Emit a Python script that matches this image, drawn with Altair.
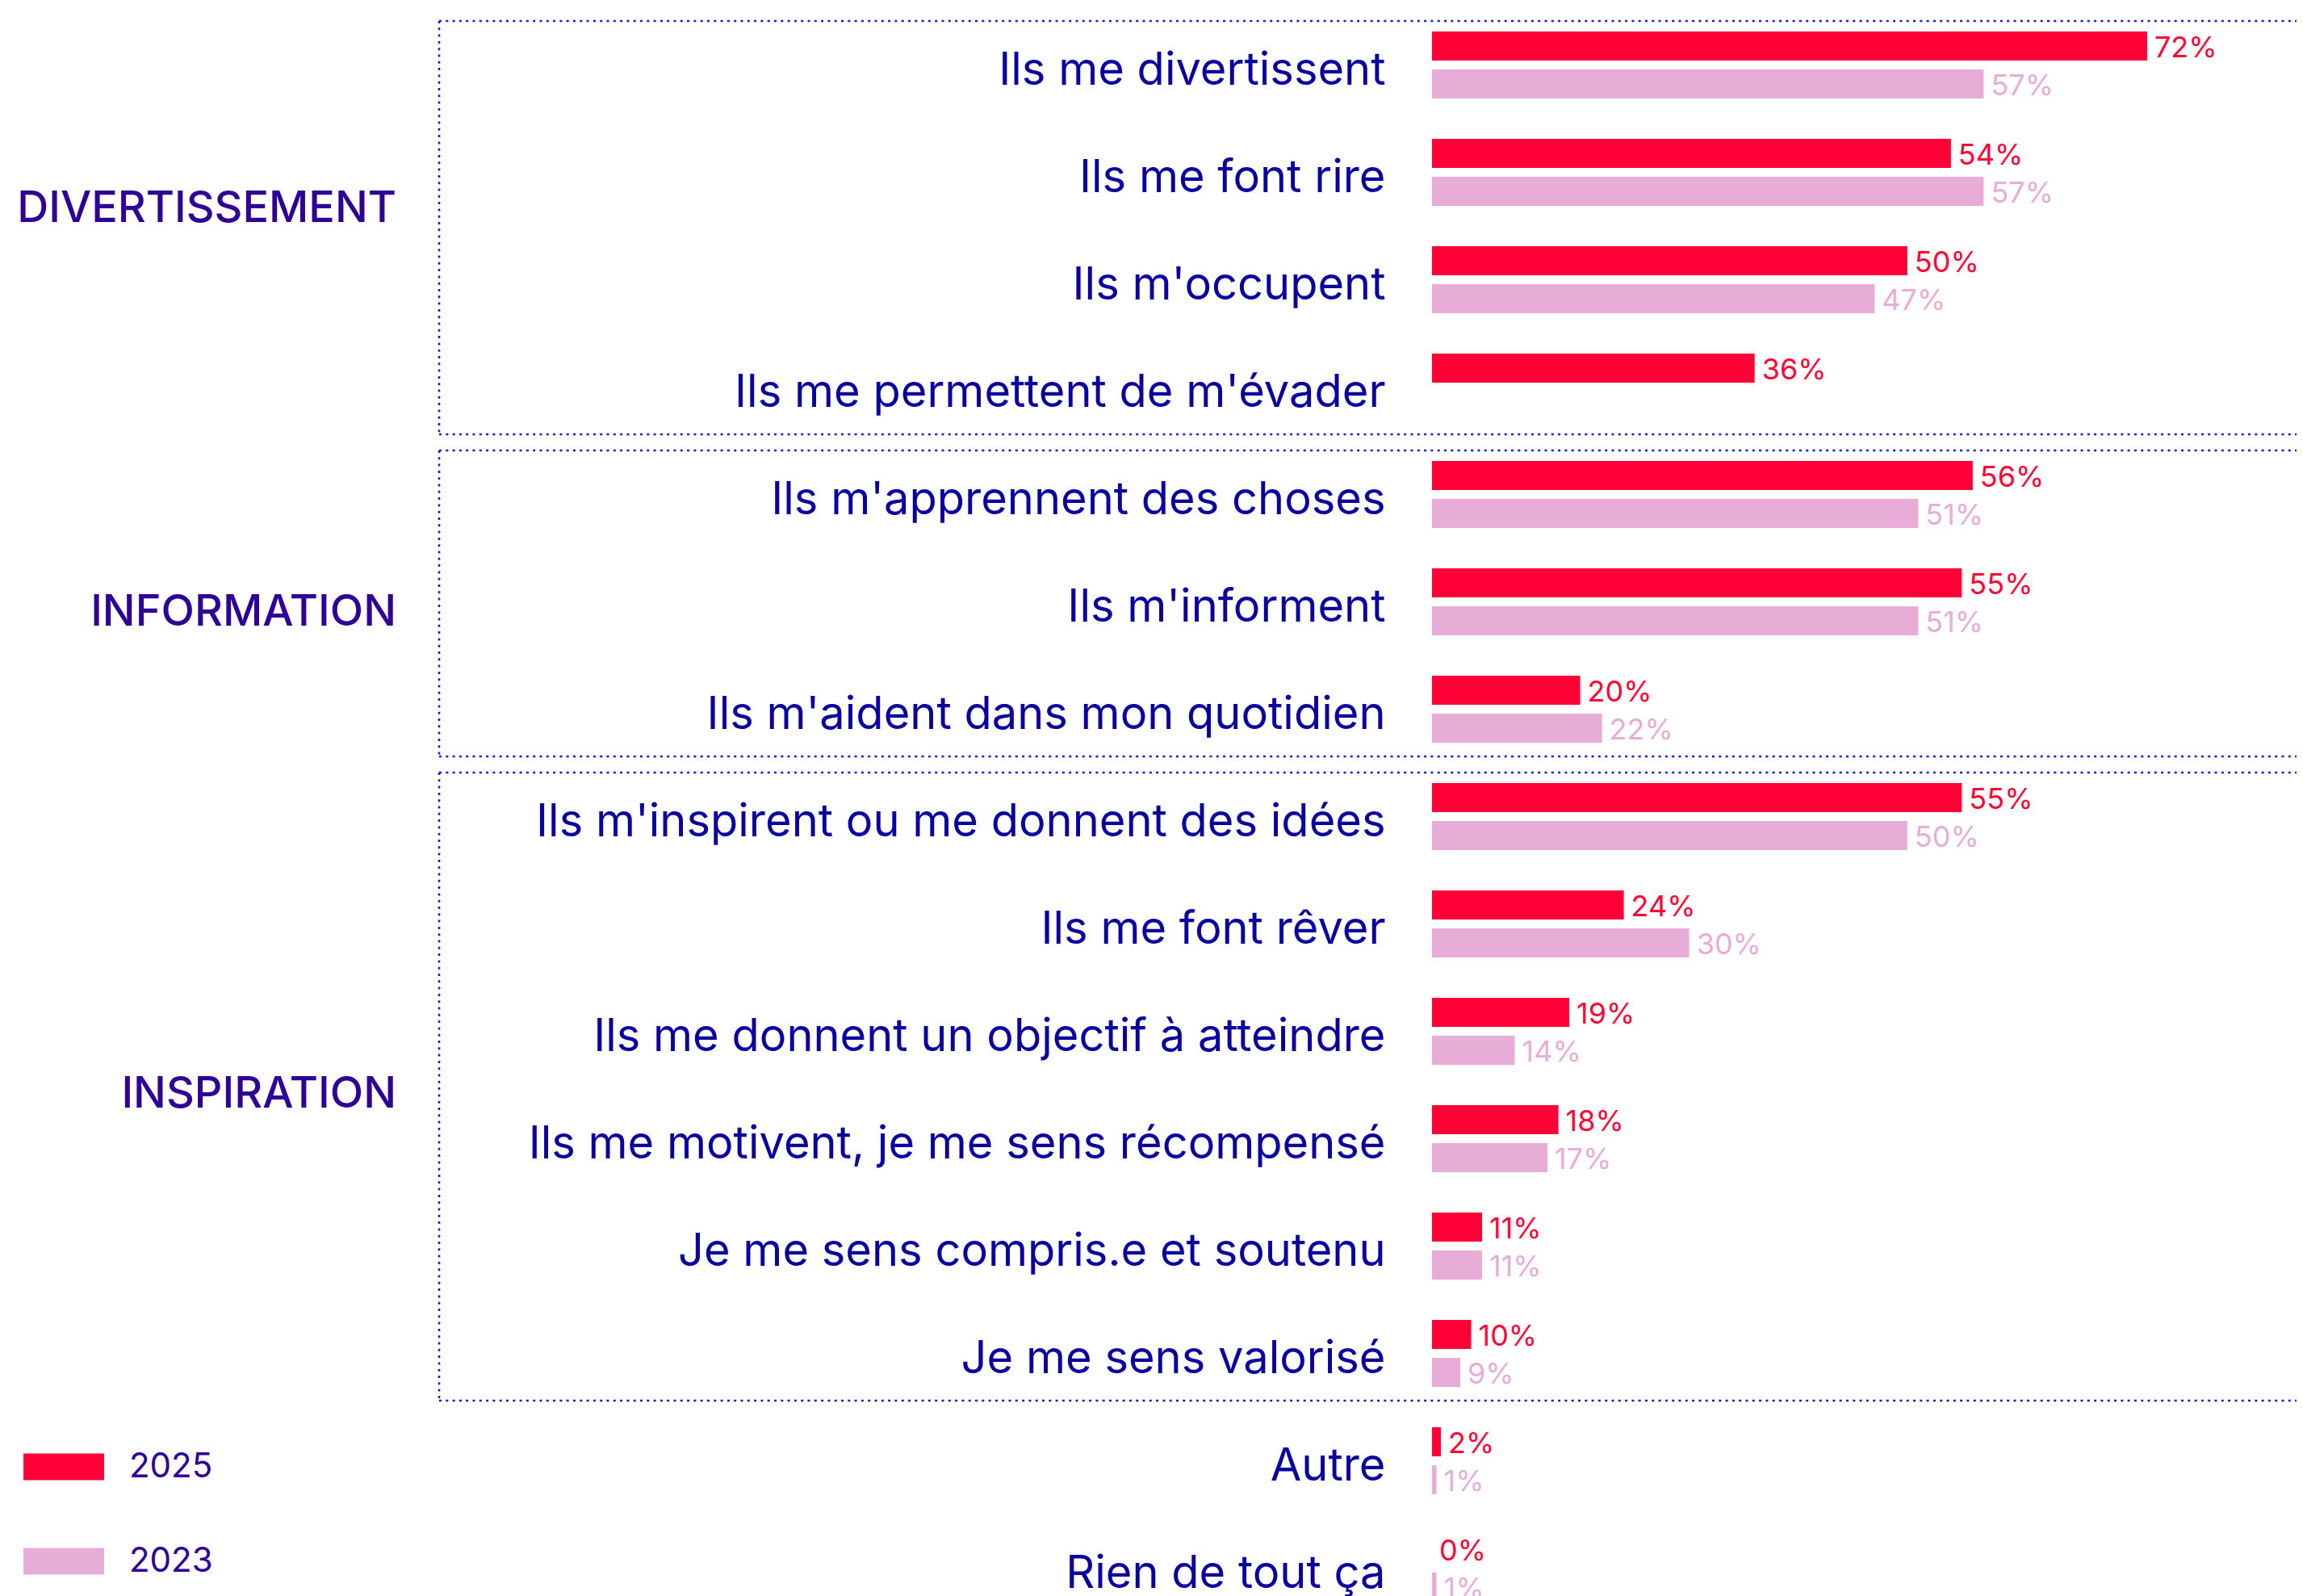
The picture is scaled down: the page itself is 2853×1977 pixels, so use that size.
import altair as alt
import pandas as pd

categories = [
    "Ils me divertissent",
    "Ils me font rire",
    "Ils m'occupent",
    "Ils me permettent de m'évader",
    "Ils m'apprennent des choses",
    "Ils m'informent",
    "Ils m'aident dans mon quotidien",
    "Ils m'inspirent ou me donnent des idées",
    "Ils me font rêver",
    "Ils me donnent un objectif à atteindre",
    "Ils me motivent, je me sens récompensé",
    "Je me sens compris.e et soutenu",
    "Je me sens valorisé",
    "Autre",
    "Rien de tout ça",
]
values_2025 = [72, 54, 50, 36, 56, 55, 20, 55, 24, 19, 18, 11, 10, 2, 0]
values_2023 = [57, 57, 47, None, 51, 51, 22, 50, 30, 14, 17, 11, 9, 1, 1]
years = ["2025", "2023"]

group_names = ["DIVERTISSEMENT", "INFORMATION", "INSPIRATION"]
group_first = [categories[0], categories[4], categories[7]]
group_last = [categories[3], categories[6], categories[12]]
# row used to anchor each group title, and where on that row's band it sits
group_anchor = [categories[1], categories[5], categories[10]]
group_anchor_band = [0.81, 0.57, 0.06]

RED = "#FF0037"
PINK = "#E8ADD6"
LABEL_BLUE = "#0A00A0"
PURPLE = "#2E0096"
DOT_BLUE = "#1A1ACD"
FONT = "Inter"

rows = []
for c, a, b in zip(categories, values_2025, values_2023):
    rows.append({"cat": c, "year": "2025", "value": a})
    if b is not None:
        rows.append({"cat": c, "year": "2023", "value": b})
df = pd.DataFrame(rows)

groups_df = pd.DataFrame({"g": group_names, "first": group_first, "last": group_last})

yscale = alt.Scale(domain=categories, paddingInner=0, paddingOuter=0)
xscale = alt.Scale(domain=[0, 2, 9, 72], range=[0, 11, 35, 886], nice=False, zero=False)
offscale = alt.Scale(domain=years, paddingInner=0.234, paddingOuter=0.532)
cscale = alt.Scale(domain=years, range=[RED, PINK])

y_axis = alt.Axis(
    labelFont=FONT, labelFontSize=56, labelColor=LABEL_BLUE,
    labelPadding=58, labelLimit=3000, ticks=False, domain=False,
    grid=False, labelAlign="right", labelBaseline="middle", labelOffset=7,
    title=None,
)

BOX_LEFT = -1230
BOX_RIGHT = 1200
dots = dict(stroke=DOT_BLUE, strokeWidth=2.5, strokeDash=[3, 5.3])

box_top = alt.Chart(groups_df).mark_rule(yOffset=12, **dots).encode(
    x=alt.value(BOX_LEFT), x2=alt.value(BOX_RIGHT),
    y=alt.Y("first:N", bandPosition=0, scale=yscale, axis=y_axis),
)
box_bottom = alt.Chart(groups_df).mark_rule(yOffset=-8, **dots).encode(
    x=alt.value(BOX_LEFT), x2=alt.value(BOX_RIGHT),
    y=alt.Y("last:N", bandPosition=1, scale=yscale, axis=y_axis),
)
box_left = alt.Chart(groups_df).mark_rule(yOffset=12, y2Offset=-8, **dots).encode(
    x=alt.value(BOX_LEFT),
    y=alt.Y("first:N", bandPosition=0, scale=yscale, axis=y_axis),
    y2=alt.Y2("last:N", bandPosition=1),
)

group_layers = []
for name, anchor, bp in zip(group_names, group_anchor, group_anchor_band):
    gd = pd.DataFrame({"g": [name], "anchor": [anchor]})
    group_layers.append(
        alt.Chart(gd).mark_text(
            align="right", baseline="middle", font=FONT, fontSize=54,
            fontWeight=500, color=PURPLE, dy=4
        ).encode(
            x=alt.value(-1283),
            y=alt.Y("anchor:N", bandPosition=bp, scale=yscale, axis=y_axis),
            text="g:N",
        )
    )

bars = alt.Chart(df).mark_bar(cornerRadius=0).encode(
    y=alt.Y("cat:N", scale=yscale, axis=y_axis),
    yOffset=alt.YOffset("year:N", scale=offscale),
    x=alt.X("value:Q", scale=xscale, axis=None),
    color=alt.Color(
        "year:N", scale=cscale,
        legend=alt.Legend(
            orient="none", legendX=-1745, legendY=1753, title=None,
            symbolType="M-1,-0.33H1V0.33H-1Z", symbolSize=10000,
            symbolStrokeWidth=0, symbolOpacity=1,
            labelFont=FONT, labelFontSize=42, labelColor=PURPLE,
            labelOffset=31, rowPadding=46, padding=0, direction="vertical",
        ),
    ),
)

texts = alt.Chart(df).transform_calculate(
    label="datum.value + '%'"
).mark_text(
    align="left", baseline="middle", dx=9, dy=3, font=FONT, fontSize=36
).encode(
    y=alt.Y("cat:N", scale=yscale, axis=y_axis),
    yOffset=alt.YOffset("year:N", scale=offscale),
    x=alt.X("value:Q", scale=xscale, axis=None),
    color=alt.Color("year:N", scale=cscale, legend=None),
    text="label:N",
)

chart = alt.layer(
    box_top, box_bottom, box_left, *group_layers, bars, texts
).properties(
    width=1071,
    height=1995,
    autosize=alt.AutoSizeParams(type="none"),
    padding={"left": 1766, "top": 6, "right": 0, "bottom": 0},
    background="white",
).configure_view(stroke=None)

chart.save("out.html", embed_options={"renderer": "svg", "actions": False})
